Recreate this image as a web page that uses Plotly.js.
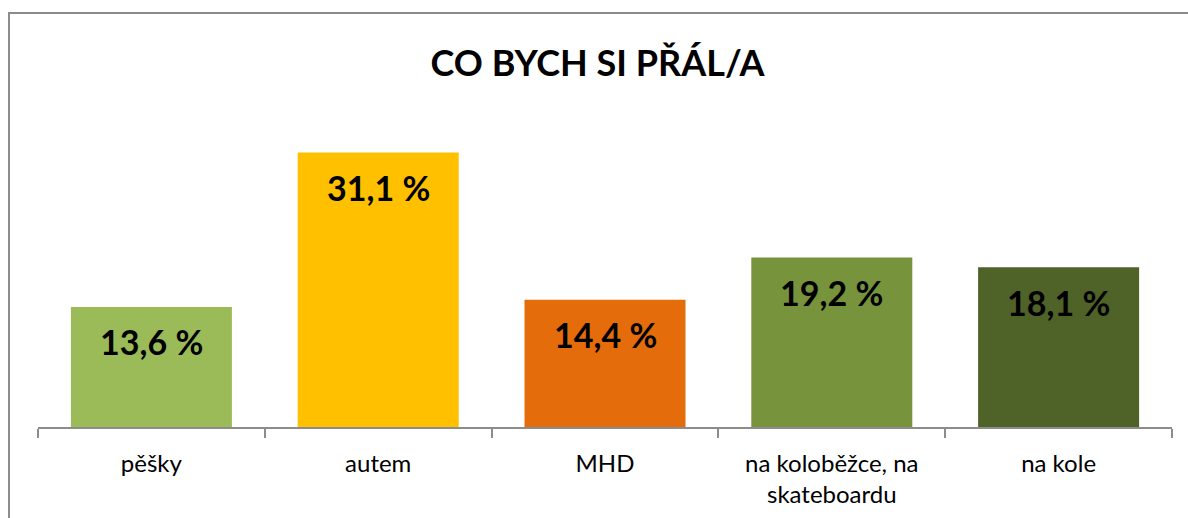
<!DOCTYPE html>
<html>
<head>
<meta charset="utf-8">
<script src="https://cdn.plot.ly/plotly-3.0.1.min.js"></script>
<style>
  html, body { margin: 0; padding: 0; background: #fff; }
  #wrap { position: relative; width: 1188px; height: 518px; overflow: hidden; }
  #frame { position: absolute; left: 8px; top: 12px; width: 1300px; height: 600px;
           border-left: 2px solid #8c8c8c; border-top: 2px solid #8c8c8c; box-sizing: border-box; }
  #chart { position: absolute; left: 0; top: 0; width: 1188px; height: 518px; }
</style>
</head>
<body>
<div id="wrap">
  <div id="frame"></div>
  <div id="chart"></div>
</div>
<script>
const categories = ["pěšky", "autem", "MHD", "na koloběžce, na<br>skateboardu", "na kole"];
const values = [13.6, 31.1, 14.4, 19.2, 18.1];
const valueLabels = ["13,6 %", "31,1 %", "14,4 %", "19,2 %", "18,1 %"];
const barColors = ["#9BBB59", "#FFC000", "#E46C0A", "#77933C", "#4F6228"];
const titleText = "CO BYCH SI PŘÁL/A";

const FONT = "Lato, 'Open Sans', sans-serif";

const trace = {
  type: "bar",
  x: categories,
  y: values,
  marker: { color: barColors },
  hoverinfo: "skip"
};

const annotations = categories.map((c, i) => ({
  x: c, y: values[i], xref: "x", yref: "y",
  text: "<b>" + valueLabels[i] + "</b>",
  showarrow: false, yanchor: "middle", yshift: -35,
  font: { family: FONT, size: 34, color: "#000" }
}));

const layout = {
  width: 1188, height: 518,
  paper_bgcolor: "rgba(0,0,0,0)",
  plot_bgcolor: "rgba(0,0,0,0)",
  margin: { l: 38, r: 16, t: 118, b: 91 },
  bargap: 0.29,
  showlegend: false,
  title: {
    text: "<b>" + titleText + "</b>",
    x: 0.503, xanchor: "center",
    y: 1 - 63 / 518, yanchor: "middle",
    font: { family: FONT, size: 36, color: "#000" }
  },
  xaxis: {
    type: "category",
    showline: true, linecolor: "#8c8c8c", linewidth: 2,
    ticks: "outside", tickson: "boundaries", ticklen: 9, tickwidth: 2, tickcolor: "#8c8c8c",
    ticklabelstandoff: 14,
    tickfont: { family: FONT, size: 24, color: "#000" },
    showgrid: false, zeroline: false, fixedrange: true
  },
  yaxis: {
    range: [0, 35],
    visible: false, showgrid: false, zeroline: false, fixedrange: true
  },
  annotations: annotations
};

Plotly.newPlot("chart", [trace], layout, { displayModeBar: false, staticPlot: true });
</script>
</body>
</html>
